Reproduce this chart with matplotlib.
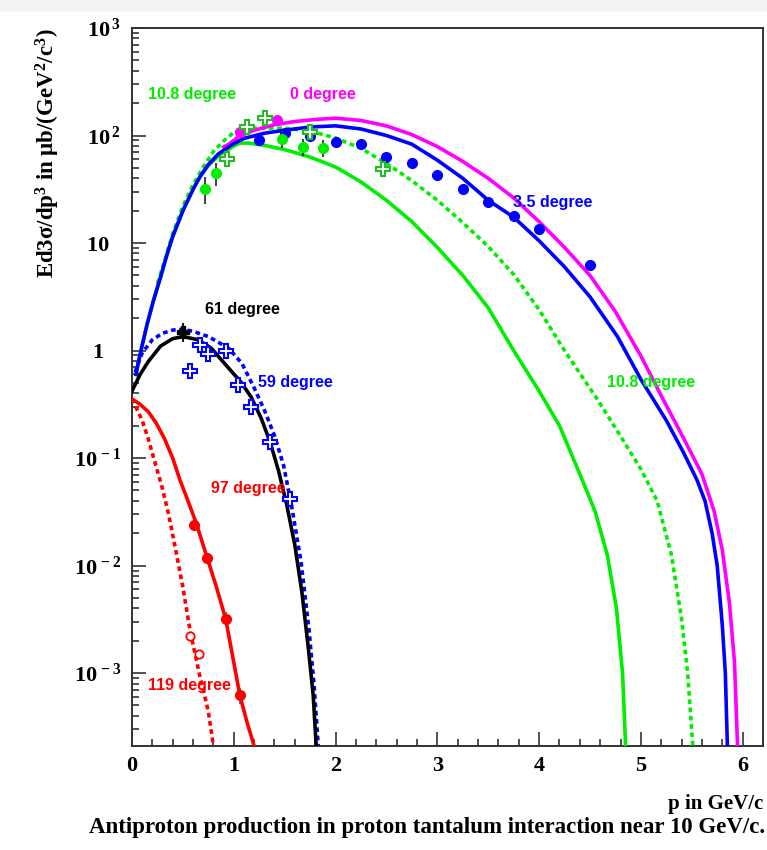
import matplotlib
matplotlib.use("Agg")
import matplotlib.pyplot as plt
from matplotlib.patches import Rectangle
from matplotlib.font_manager import FontProperties
from matplotlib.ticker import FixedLocator, FixedFormatter, LogLocator, NullFormatter, MultipleLocator

plt.rcParams['mathtext.fontset'] = 'custom'
plt.rcParams['mathtext.rm'] = 'Liberation Serif:bold'
plt.rcParams['mathtext.it'] = 'Liberation Serif:bold:italic'
plt.rcParams['mathtext.bf'] = 'Liberation Serif:bold'

# ---------------- model curves ----------------
blue_x = [0.04, 0.06, 0.1, 0.15, 0.21, 0.28, 0.34, 0.4, 0.5, 0.6, 0.67, 0.75, 0.85, 0.99, 1.1,
          1.3, 1.5, 1.75, 2.0, 2.25, 2.5, 2.75, 3.0, 3.25, 3.5, 3.75, 4.0, 4.25, 4.5, 4.77,
          5.0, 5.25, 5.42, 5.55, 5.63, 5.7, 5.75, 5.8, 5.83, 5.85]
blue_y = [0.6, 0.76, 1.12, 1.78, 2.9, 4.8, 7.6, 11.5, 20, 31.6, 41.7, 53.7, 67.6, 83, 94,
          105, 112, 120, 123, 115, 100, 83, 59, 40, 25, 17.4, 10.5, 6.0, 3.16, 1.35,
          0.54, 0.224, 0.112, 0.063, 0.04, 0.02, 0.01, 0.0028, 0.001, 2.1e-4]

mag_x = [0.9, 0.95, 1.05, 1.2, 1.4, 1.6, 1.8, 2.0, 2.25, 2.5, 2.75, 3.0, 3.25, 3.5, 3.75, 4.0,
         4.25, 4.5, 4.75, 5.0, 5.2, 5.4, 5.6, 5.72, 5.8, 5.87, 5.92, 5.95]
mag_y = [78, 83, 98, 112, 126, 135, 141, 145, 138, 123, 102, 79, 57.5, 40, 26.3, 15.8,
         9.1, 5.0, 2.3, 0.89, 0.38, 0.166, 0.071, 0.032, 0.014, 0.0045, 0.00126, 2.1e-4]

gs_x = [0.04, 0.06, 0.1, 0.15, 0.21, 0.28, 0.34, 0.4, 0.5, 0.6, 0.67, 0.75, 0.85, 0.99, 1.06,
        1.15, 1.3, 1.5, 1.75, 2.0, 2.25, 2.5, 2.75, 3.0, 3.25, 3.5, 3.75, 4.0, 4.2, 4.4, 4.55,
        4.67, 4.76, 4.82, 4.85]
gs_y = [0.6, 0.76, 1.12, 1.78, 2.9, 4.8, 7.6, 11.5, 20, 31.6, 41.5, 52.5, 65, 79, 85,
        85, 81, 74, 63, 51, 37, 25, 15.8, 9.1, 5.0, 2.5, 1.0, 0.42, 0.2, 0.071, 0.032,
        0.0126, 0.004, 0.001, 2.1e-4]

gd_x = [0.25, 0.34, 0.4, 0.5, 0.6, 0.7, 0.8, 0.9, 1.0, 1.2, 1.5, 1.75, 2.0, 2.25, 2.5, 2.75,
        3.0, 3.25, 3.5, 3.75, 4.0, 4.25, 4.57, 4.8, 5.0, 5.16, 5.3, 5.4, 5.46, 5.51]
gd_y = [4.2, 7.9, 12.3, 22, 35, 51, 71, 89, 107, 117, 117, 110, 95, 76, 55, 38,
        25, 15.5, 9.3, 5.1, 2.4, 1.0, 0.355, 0.16, 0.079, 0.04, 0.0126, 0.0032, 0.001, 2.1e-4]

blk_x = [0.0, 0.08, 0.16, 0.28, 0.4, 0.5, 0.65, 0.78, 0.93, 1.07, 1.17, 1.27, 1.36, 1.44, 1.52,
         1.6, 1.67, 1.73, 1.78, 1.81]
blk_y = [0.42, 0.6, 0.79, 1.1, 1.29, 1.35, 1.26, 1.05, 0.72, 0.51, 0.37, 0.234, 0.138, 0.076,
         0.037, 0.0155, 0.0056, 0.0018, 6.3e-4, 2.1e-4]

bd_x = [0.03, 0.1, 0.2, 0.3, 0.4, 0.5, 0.6, 0.75, 0.95, 1.08, 1.2, 1.3, 1.4, 1.49, 1.57, 1.66,
        1.74, 1.79, 1.83]
bd_y = [0.63, 0.95, 1.26, 1.45, 1.55, 1.58, 1.51, 1.35, 1.05, 0.76, 0.45, 0.28, 0.162, 0.085,
        0.035, 0.011, 0.0025, 7.5e-4, 2.1e-4]

rs_x = [0.0, 0.08, 0.16, 0.24, 0.32, 0.4, 0.47, 0.55, 0.63, 0.74, 0.83, 0.92, 1.0, 1.06, 1.13, 1.2]
rs_y = [0.355, 0.316, 0.27, 0.21, 0.151, 0.1, 0.063, 0.04, 0.025, 0.0117, 0.0063, 0.0032,
        0.00126, 6.2e-4, 3.5e-4, 2.1e-4]

rd_x = [0.0, 0.03, 0.1, 0.16, 0.22, 0.29, 0.36, 0.42, 0.5, 0.57, 0.66, 0.75, 0.8]
rd_y = [0.355, 0.31, 0.224, 0.151, 0.095, 0.056, 0.03, 0.0155, 0.0063, 0.0025, 0.001, 4.4e-4, 2.1e-4]

# ---------------- data points ----------------
b35_x = [1.25, 1.5, 1.75, 2.0, 2.25, 2.5, 2.75, 3.0, 3.25, 3.5, 3.75, 4.0, 4.5]
b35_y = [91, 105, 100, 87, 83, 63, 55, 43, 32, 24, 18, 13.5, 6.2]

m0_x = [1.06, 1.42]
m0_y = [108, 138]

g108f_x = [0.72, 0.83, 1.47, 1.68, 1.88]
g108f_y = [32, 45, 93, 79, 77]
g108f_err = [9, 11, 16, 14, 14]

g108o_x = [0.93, 1.13, 1.31, 1.75, 2.47]
g108o_y = [60, 120, 145, 108, 49]

k61_x = [0.5]
k61_y = [1.5]
k61_err = [0.3]

b59_x = [0.57, 0.67, 0.75, 0.92, 1.04, 1.17, 1.36, 1.55]
b59_y = [0.65, 1.12, 0.93, 1.0, 0.48, 0.30, 0.141, 0.042]

r97_x = [0.61, 0.74, 0.92, 1.06]
r97_y = [0.024, 0.0117, 0.0032, 6.2e-4]
r97_err = [0.003, 0.0013, 0.0005, 0.0001]

r119_x = [0.57, 0.66]
r119_y = [0.0022, 0.0015]

labels = ["10.8 degree", "0 degree", "3.5 degree", "10.8 degree", "61 degree",
          "59 degree", "97 degree", "119 degree"]
label_x = [0.157, 1.55, 3.74, 4.67, 0.72, 1.24, 0.78, 0.157]
label_y = [240, 240, 23.7, 0.51, 2.4, 0.51, 0.052, 7.6e-4]
label_c = ['#00ee00', '#ff00ff', '#0000ff', '#00ee00', '#000000', '#0000ff', '#ff0000', '#ff0000']

ytick_vals = [1e-3, 1e-2, 1e-1, 1, 10, 100, 1000]
ytick_labels = [r"10$^{\,-3}$", r"10$^{\,-2}$", r"10$^{\,-1}$", "1   ",
                "10  ", r"10$^{\,2}$", r"10$^{\,3}$"]

GREEN = '#00ee00'
W, H = 767, 850
fig = plt.figure(figsize=(W / 100, H / 100), dpi=100)
fig.patches.append(Rectangle((0, 1 - 10 / H), 1, 10 / H, transform=fig.transFigure,
                             color='#f3f3f3', zorder=0))
ax = fig.add_axes([132 / W, 1 - 746 / H, (763 - 132) / W, (746 - 28) / H])
ax.set_yscale('log')
ax.set_xlim(0, 6.2)
ax.set_ylim(2.1e-4, 1000)

lw = 2.6
dash = (0, (1.3, 1.0))
ax.plot(gs_x, gs_y, color=GREEN, lw=lw, zorder=3)
ax.plot(gd_x, gd_y, color=GREEN, lw=lw, ls=dash, zorder=3)
ax.plot(mag_x, mag_y, color='#ff00ff', lw=lw, zorder=3)
ax.plot(blue_x, blue_y, color='#0000ff', lw=lw, zorder=4)
ax.plot(bd_x, bd_y, color='#0000ff', lw=lw, ls=dash, zorder=3)
ax.plot(blk_x, blk_y, color='black', lw=lw, zorder=4)
ax.plot(rs_x, rs_y, color='#ff0000', lw=lw, zorder=3)
ax.plot(rd_x, rd_y, color='#ff0000', lw=lw, ls=dash, zorder=3)

ax.plot(b35_x, b35_y, 'o', color='#0000ff', ms=7, zorder=5)
ax.plot(m0_x, m0_y, 'o', color='#ff00ff', ms=7, zorder=5)
ax.errorbar(g108f_x, g108f_y, yerr=g108f_err, fmt='o', color=GREEN, ms=7, ecolor='#333333',
            elinewidth=1.3, capsize=0, zorder=5)
ax.plot(g108o_x, g108o_y, 'P', mfc='white', mec='#22bb22', mew=1.5, ms=10, zorder=5)
ax.errorbar(k61_x, k61_y, yerr=k61_err, fmt='P', color='black', ms=9, elinewidth=1.3,
            capsize=0, zorder=6)
ax.plot(b59_x, b59_y, 'P', mfc='white', mec='#0000ff', mew=1.5, ms=10, zorder=5)
ax.errorbar(r97_x, r97_y, yerr=r97_err, fmt='o', color='#ff0000', ms=7, ecolor='#555555',
            elinewidth=1.2, capsize=0, zorder=5)
ax.plot(r119_x, r119_y, 'o', mfc='white', mec='#ff0000', mew=1.3, ms=6, zorder=5)

for t, x, y, c in zip(labels, label_x, label_y, label_c):
    ax.text(x, y, t, color=c, ha='left', va='center', fontsize=11.5,
            fontweight='bold', family='Liberation Sans', zorder=7)

serif = dict(family='Liberation Serif', weight='bold', size=15)
ax.yaxis.set_major_locator(FixedLocator(ytick_vals))
ax.yaxis.set_major_formatter(FixedFormatter(ytick_labels))
ax.yaxis.set_minor_locator(LogLocator(base=10, subs=[2, 3, 4, 5, 6, 7, 8, 9], numticks=20))
ax.yaxis.set_minor_formatter(NullFormatter())
ax.xaxis.set_major_locator(MultipleLocator(1))
ax.xaxis.set_minor_locator(MultipleLocator(0.2))
ax.tick_params(which='both', direction='in', top=False, right=False, width=1.1, color='#222222')
ax.tick_params(which='major', length=10)
ax.tick_params(which='minor', length=5)
ax.tick_params(axis='x', which='major', pad=7)
ax.tick_params(axis='y', which='major', pad=8)
tickfont = FontProperties(family='Liberation Serif', weight='bold', size=16)
for lab in ax.get_xticklabels() + ax.get_yticklabels():
    lab.set_fontproperties(tickfont)
for s in ax.spines.values():
    s.set_linewidth(1.4)
    s.set_color('#333333')

ax.set_xlabel("p in GeV/c", loc='right', fontdict=serif, labelpad=13)
ax.set_ylabel(r"Ed3σ/dp$^{3}$ in μb/(GeV$^{2}$/c$^{3}$)", loc='top',
              fontdict=dict(family='Liberation Serif', weight='bold', size=16.5), labelpad=8)
fig.text(765 / W, 1 - 828 / H, "Antiproton production in proton tantalum interaction near 10 GeV/c.",
         ha='right', va='center', family='Liberation Serif', weight='bold', size=16.5)

fig.savefig("out.png", dpi=100)
